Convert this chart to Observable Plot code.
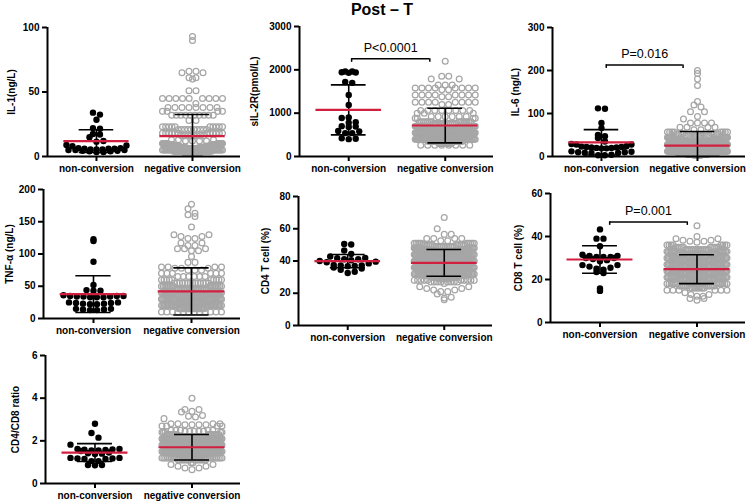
<!DOCTYPE html>
<html><head><meta charset="utf-8">
<script src="https://cdn.jsdelivr.net/npm/d3@7"></script>
<script src="https://cdn.jsdelivr.net/npm/@observablehq/plot@0.6"></script>
<style>
body{margin:0;background:#fff;overflow:hidden;font-family:"Liberation Sans",Arial,sans-serif}
#wrap{position:relative;width:750px;height:502px;overflow:hidden}
.panel{position:absolute}
.panel svg{overflow:visible}
#title{position:absolute;left:282px;width:200px;top:1px;text-align:center;font-weight:bold;font-size:16px;line-height:18px;z-index:5}
</style></head>
<body><div id="wrap"><div id="title">Post – T</div></div>
<script>
const groups = ["non-conversion", "negative conversion"];

// IL-1 (ng/L)
const il1Ticks = [0, 50, 100];
const il1NC = [34, 32.5, 28.5, 22, 21.5, 17.5, 17, 15, 12, 11.5, 9, 8.5, 8, 6.5, 6.5, 6, 6, 6, 5.5, 5.5, 5.5, 5, 5, 5, 4.5, 4.5, 4, 4, 3.5, 3.5];
const il1Neg = [[93,1],[90,1],[66,2],[65,2],[61,2],[60,1],[51,2],[45,9],[41,1],[38,8],[35,4],[32,10],[28,2],[23,10],[21,10],[18,12],[16,8],[13,3],[12,4],[10,16],[9,18],[8,18],[7,18],[6,18],[5,18],[4,18],[3,14]];
const il1Mean = [11.9, 15.8];
const il1SD = [8.8, 16.8];

// sIL-2R (pmol/L)
const il2Ticks = [0, 1000, 2000, 3000];
const il2NC = [1960, 1940, 1930, 1945, 1960, 1720, 1700, 1420, 1190, 900, 890, 790, 780, 700, 690, 680, 590, 580, 540, 540, 420, 410, 400];
const il2Neg = [[2200,1],[1850,2],[1790,2],[1650,3],[1580,8],[1540,2],[1420,8],[1380,2],[1250,8],[1200,2],[1060,8],[1000,3],[920,6],[880,4],[800,14],[760,12],[700,18],[650,22],[600,24],[550,26],[500,26],[450,26],[400,26],[350,22],[300,14],[260,8]];
const il2Mean = [1077, 715];
const il2SD = [577, 400];

// IL-6 (ng/L)
const il6Ticks = [0, 100, 200, 300];
const il6NC = [112, 111, 78, 66, 50, 47, 43, 35, 29, 28, 28, 24, 23, 22, 22, 21, 21, 20, 20, 19, 19, 12, 11, 10, 10, 9, 8, 8, 4, 3, 3];
const il6Neg = [[200,1],[193,1],[180,1],[165,1],[128,1],[120,1],[115,1],[104,2],[93,1],[87,1],[78,4],[68,4],[62,2],[57,8],[53,8],[48,12],[44,14],[40,16],[36,20],[32,22],[28,26],[24,28],[20,30],[16,30],[12,28],[8,24],[5,18],[3,10]];
const il6Mean = [33, 25.5];
const il6SD = [29.6, 32.5];

// TNF-α (ng/L)
const tnfTicks = [0, 50, 100, 150, 200];
const tnfNC = [123, 120, 88, 52, 44, 43, 43, 36, 35, 35, 34, 34, 33, 33, 33, 34, 35, 25, 24, 23, 22, 22, 23, 24, 25, 15, 14, 13, 13, 14, 15];
const tnfNeg = [[177,1],[170,1],[163,1],[161,1],[158,1],[142,1],[130,2],[127,2],[124,2],[117,2],[113,2],[108,3],[105,2],[96,1],[87,2],[80,4],[78,3],[75,3],[70,6],[65,6],[60,10],[55,14],[50,16],[45,20],[40,24],[35,26],[30,28],[25,28],[20,26],[15,20],[10,12]];
const tnfMean = [37.7, 42];
const tnfSD = [28.5, 36.5];

// CD4 T cell (%)
const cd4Ticks = [0, 20, 40, 60, 80];
const cd4NC = [50.6, 50.2, 46.5, 44.4, 42.8, 41.9, 41.7, 41.1, 41.1, 40.5, 40, 39.6, 39.2, 38.5, 37.6, 37.2, 37.2, 37, 36.8, 36, 35.3, 34.5, 33.3, 32.6];
const cd4Neg = [[67,1],[60,1],[56.5,2],[54,4],[52.5,2],[51,10],[50,12],[49,12],[48,14],[47,14],[46,16],[45,16],[44,16],[43,16],[42,16],[41,16],[40,16],[39,16],[38,16],[37,16],[36,16],[35,16],[34,14],[33,14],[32,14],[31,12],[30,12],[29,10],[28,10],[27,8],[26,1],[24,2],[23,2],[22,2],[21,2],[19.6,1],[17.5,1],[17,1],[16,1]];
const cd4Mean = [39.9, 38.8];
const cd4SD = [4.1, 8.3];

// CD8 T cell (%)
const cd8Ticks = [0, 20, 40, 60];
const cd8NC = [43.3, 39, 39, 35.5, 31.5, 31, 30.5, 30.5, 30, 31, 30.5, 30, 29.5, 29, 28.5, 26.7, 26.7, 26, 25.5, 25, 24.6, 23.5, 23, 15.8, 14.7];
const cd8Neg = [[45,1],[40,1],[39,2],[38.3,2],[37.8,2],[37.3,1],[36,8],[35,10],[34,12],[33,14],[32,14],[31,16],[30,16],[29,16],[28,16],[27,16],[26,16],[25,16],[24,16],[23,16],[22,16],[21,16],[20,14],[19,14],[18,12],[17,10],[16,8],[15,6],[13.8,1],[13,2],[12.2,2],[11.2,2],[10.4,1]];
const cd8Mean = [29.3, 24.8];
const cd8SD = [6.4, 6.7];

// CD4/CD8 ratio
const ratioTicks = [0, 2, 4, 6];
const ratioNC = [2.8, 2.37, 2.15, 1.82, 1.62, 1.6, 1.57, 1.55, 1.52, 1.55, 1.58, 1.62, 1.45, 1.42, 1.4, 1.38, 1.2, 1.17, 1.15, 1.15, 1.17, 1.2, 1.05, 1.05, 0.87, 0.87, 0.85];
const ratioNeg = [[4.0,1],[3.47,2],[3.38,1],[3.35,1],[3.19,1],[3.15,1],[3.12,1],[3.04,1],[2.8,4],[2.75,4],[2.7,4],[2.5,5],[2.45,5],[2.4,5],[2.3,16],[2.2,20],[2.1,22],[2.0,24],[1.9,26],[1.8,26],[1.7,26],[1.6,26],[1.5,26],[1.4,24],[1.3,22],[1.2,18],[1.1,14],[0.97,2],[0.89,2],[0.81,2],[0.73,2],[0.65,1]];
const ratioMean = [1.45, 1.7];
const ratioSD = [0.42, 0.6];

const pLabels = ["", "P<0.0001", "P=0.016", "", "", "P=0.001", ""];

const panels = [
  {label: "IL-1(ng/L)", ticks: il1Ticks, nc: il1NC, neg: il1Neg, mean: il1Mean, sd: il1SD},
  {label: "sIL-2R(pmol/L)", ticks: il2Ticks, nc: il2NC, neg: il2Neg, mean: il2Mean, sd: il2SD},
  {label: "IL-6 (ng/L)", ticks: il6Ticks, nc: il6NC, neg: il6Neg, mean: il6Mean, sd: il6SD},
  {label: "TNF-α (ng/L)", ticks: tnfTicks, nc: tnfNC, neg: tnfNeg, mean: tnfMean, sd: tnfSD},
  {label: "CD4 T cell (%)", ticks: cd4Ticks, nc: cd4NC, neg: cd4Neg, mean: cd4Mean, sd: cd4SD},
  {label: "CD8 T cell (%)", ticks: cd8Ticks, nc: cd8NC, neg: cd8Neg, mean: cd8Mean, sd: cd8SD},
  {label: "CD4/CD8 ratio", ticks: ratioTicks, nc: ratioNC, neg: ratioNeg, mean: ratioMean, sd: ratioSD}
];

// layout of each panel (pixels) and bracket placement
const layout = [
  {left: 0,   top: 0,   mL: 47, mR: 10, mT: 27, h: 129, lab: 36.5},
  {left: 250, top: 0,   mL: 49, mR: 7,  mT: 26, h: 130, lab: 46, by: 2254, bx: [1.03, 1.84]},
  {left: 500, top: 0,   mL: 52, mR: 5,  mT: 27, h: 129, lab: 38, by: 213, bx: [1.05, 1.85]},
  {left: 0,   top: 170, mL: 43, mR: 10, mT: 19, h: 129, lab: 35},
  {left: 250, top: 170, mL: 48, mR: 8,  mT: 26, h: 129, lab: 34},
  {left: 500, top: 170, mL: 50, mR: 5,  mT: 23, h: 129, lab: 33, by: 46.8, bx: [1.1, 1.9]},
  {left: 0,   top: 340, mL: 45, mR: 10, mT: 15, h: 128, lab: 31}
];

const XD = [0.49, 2.5];
const RED = "#d11f3f", GRAY = "#a6a6a6";
const BIN = 6.5, STEP = 7, SPAN = 60, CAP = 0.18, MW = 0.34;

const expand = pairs => pairs.flatMap(([v, c]) => Array(c).fill(v));

// GraphPad-like scatter: points in the same y-band share a row, lowest in the centre
function swarm(values, gi, ppu, W) {
  const xpp = (XD[1] - XD[0]) / W;
  const rows = d3.group(values, v => Math.floor(v * ppu / BIN));
  const out = [];
  for (const [, row] of rows) {
    const s = row.slice().sort((a, b) => a - b);
    const k = s.length;
    const sp = k > 1 ? Math.min(STEP, SPAN / (k - 1)) : 0;
    s.forEach((v, i) => {
      let off;
      if (k % 2 === 1) off = i === 0 ? 0 : (i % 2 === 1 ? 1 : -1) * Math.ceil(i / 2);
      else off = (i % 2 === 0 ? 1 : -1) * (Math.floor(i / 2) + 0.5);
      out.push({x: gi + 1 + off * sp * xpp, y: v});
    });
  }
  return out;
}

const wrap = document.getElementById("wrap");
panels.forEach((pd, i) => {
  const L = layout[i];
  const H = L.h;
  const W = 250 - L.mL - L.mR;
  const ymax = pd.ticks[pd.ticks.length - 1];
  const ppu = H / ymax;
  const ncPts = swarm(pd.nc, 0, ppu, W);
  const negPts = swarm(expand(pd.neg), 1, ppu, W);
  const stats = groups.map((g, j) => ({
    g: j + 1, mean: pd.mean[j], hi: pd.mean[j] + pd.sd[j],
    lo: Math.max(0, pd.mean[j] - pd.sd[j]), loCap: pd.mean[j] - pd.sd[j] > 0
  }));
  const marks = [
    Plot.dot(negPts, {x: "x", y: "y", r: 2.9, stroke: GRAY, strokeWidth: 1.25, fill: "none"}),
    Plot.dot(ncPts, {x: "x", y: "y", r: 3.2, fill: "black", stroke: "none"}),
    Plot.ruleX(stats, {x: "g", y1: "lo", y2: "hi", strokeWidth: 1.6}),
    Plot.ruleY(stats, {y: "hi", x1: d => d.g - CAP, x2: d => d.g + CAP, strokeWidth: 1.6}),
    Plot.ruleY(stats.filter(d => d.loCap), {y: "lo", x1: d => d.g - CAP, x2: d => d.g + CAP, strokeWidth: 1.6}),
    Plot.ruleY(stats, {y: "mean", x1: d => d.g - MW, x2: d => d.g + MW, stroke: RED, strokeWidth: 2.2}),
    Plot.ruleY([0], {strokeWidth: 2}),
    Plot.ruleX([XD[0]], {strokeWidth: 2}),
    Plot.axisY({ticks: pd.ticks, tickSize: 5, tickPadding: 3, strokeWidth: 2, tickFormat: d => String(d),
      label: pd.label, labelAnchor: "center", labelOffset: L.lab + 3, labelArrow: false}),
    Plot.axisX({ticks: [1, 2], tickFormat: d => groups[d - 1], tickSize: 5, tickPadding: 3, strokeWidth: 2, label: null})
  ];
  if (pLabels[i]) {
    const br = [{x1: L.bx[0], x2: L.bx[1], y: L.by, t: pLabels[i]}];
    const tl = 3.5 / ppu;
    marks.push(
      Plot.ruleY(br, {y: "y", x1: "x1", x2: "x2", strokeWidth: 1.5}),
      Plot.ruleX([L.bx[0], L.bx[1]], {x: d => d, y1: L.by - tl, y2: L.by, strokeWidth: 1.5}),
      Plot.text(br, {x: d => (d.x1 + d.x2) / 2, y: "y", dy: -11, text: "t", fontSize: 12.5, fontWeight: "normal"})
    );
  }
  const svg = Plot.plot({
    width: 250, height: L.mT + H + 20,
    marginLeft: L.mL, marginRight: L.mR, marginTop: L.mT, marginBottom: 20,
    x: {domain: XD}, y: {domain: [0, ymax]},
    style: {fontFamily: '"Liberation Sans", Arial, sans-serif', fontSize: "10px", fontWeight: "bold", background: "transparent", overflow: "visible", color: "black"},
    marks
  });
  const div = document.createElement("div");
  div.className = "panel";
  div.style.left = L.left + "px";
  div.style.top = L.top + "px";
  div.appendChild(svg);
  wrap.appendChild(div);
});
</script>
</body></html>
